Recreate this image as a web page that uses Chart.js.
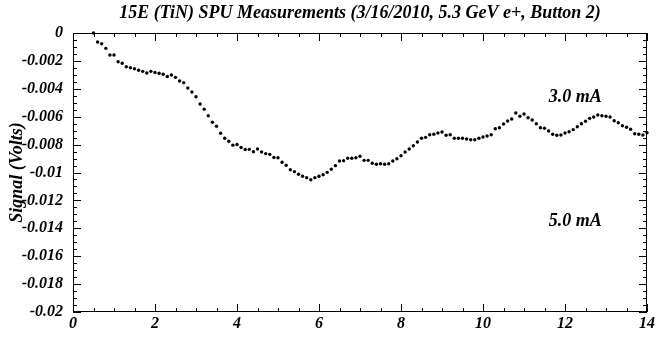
<!DOCTYPE html>
<html><head><meta charset="utf-8">
<script src="https://cdn.jsdelivr.net/npm/chart.js@4.4.0/dist/chart.umd.min.js"></script>
<style>html,body{margin:0;padding:0;background:#fff;overflow:hidden;} #wrap{width:665px;height:337px;position:relative;}</style>
</head><body><div id="wrap"><canvas id="c" width="665" height="337"></canvas></div>
<script>
const titleText = "15E (TiN) SPU Measurements (3/16/2010, 5.3 GeV e+, Button 2)";
const yAxisTitle = "Signal (Volts)";

const xValues = [
 0.5,0.6,0.7,0.8,0.9,1.0,1.1,1.2,1.3,1.4,
 1.5,1.6,1.7,1.8,1.9,2.0,2.1,2.2,2.3,2.4,
 2.5,2.6,2.7,2.8,2.9,3.0,3.1,3.2,3.3,3.4,
 3.5,3.6,3.7,3.8,3.9,4.0,4.1,4.2,4.3,4.4,
 4.5,4.6,4.7,4.8,4.9,5.0,
 5.1,5.2,5.3,5.4,5.5,5.6,5.7,5.8,5.9,6.0,
 6.1,6.2,6.3,6.4,6.5,6.6,6.7,6.8,6.9,7.0,7.1,7.2,
 7.3,7.4,7.5,7.6,7.7,7.8,7.9,8.0,8.1,8.2,8.3,8.4,8.5,8.6,8.7,8.8,8.9,9.0,9.1,9.2,9.3,9.4,9.5,
 9.6,9.7,9.8,9.9,10.0,10.1,10.2,10.3,10.4,10.5,10.6,10.7,10.8,10.9,11.0,11.1,11.2,11.3,11.4,11.5,11.6,11.7,11.8,
 11.9,12.0,12.1,12.2,12.3,12.4,12.5,12.6,12.7,12.8,12.9,13.0,13.1,13.2,13.3,13.4,13.5,13.6,13.7,13.8,13.9,14.0
];

const signalValues = [
 0, -0.00065, -0.00077, -0.0011, -0.00158, -0.00158, -0.00206, -0.00217, -0.00242, -0.00249,
 -0.00256, -0.00267, -0.00275, -0.00287, -0.00275, -0.00283, -0.00289, -0.00296, -0.00312, -0.00301,
 -0.00318, -0.00344, -0.00356, -0.00394, -0.00423, -0.00457, -0.00509, -0.00546, -0.00593, -0.0064,
 -0.00668, -0.00719, -0.00755, -0.00776, -0.00804, -0.00799, -0.00821, -0.00835, -0.00834, -0.00851,
 -0.00832, -0.00853, -0.00865, -0.0087, -0.00893, -0.00894,
 -0.00927, -0.00948, -0.0098, -0.00994, -0.01013, -0.01027, -0.01037, -0.01052, -0.01037, -0.01027,
 -0.01016, -0.00999, -0.00977, -0.00951, -0.00918, -0.00915, -0.00898, -0.00898, -0.00894, -0.00884, -0.00913, -0.00913,
 -0.00934, -0.00941, -0.00937, -0.00941, -0.00937, -0.00918, -0.00901, -0.0088, -0.00853, -0.00832, -0.00808, -0.00781,
 -0.00755, -0.00748, -0.00729, -0.00726, -0.00717, -0.0071, -0.00733, -0.00729, -0.00755, -0.00755, -0.00755,
 -0.0076, -0.00765, -0.00765, -0.00755, -0.00746, -0.00738, -0.00729, -0.00686, -0.00679, -0.00652, -0.00631,
 -0.00617, -0.00574, -0.00597, -0.00581, -0.00607, -0.00624, -0.0065, -0.00679, -0.00683, -0.00703, -0.00726, -0.00733,
 -0.00731, -0.00717, -0.00708, -0.00693, -0.00672, -0.0065, -0.00633, -0.00612, -0.00602, -0.00588, -0.00593,
 -0.00597, -0.00602, -0.00629, -0.00643, -0.00665, -0.00676, -0.0069, -0.00722, -0.00726, -0.00731, -0.00715
];

const xTickValues = [0, 2, 4, 6, 8, 10, 12, 14];
const xTickLabels = ["0", "2", "4", "6", "8", "10", "12", "14"];
const yTickValues = [0, -0.002, -0.004, -0.006, -0.008, -0.01, -0.012, -0.014, -0.016, -0.018, -0.02];
const yTickLabels = ["0", "-0.002", "-0.004", "-0.006", "-0.008", "-0.01", "-0.012", "-0.014", "-0.016", "-0.018", "-0.02"];

const annotationLabels = ["3.0 mA", "5.0 mA"];
const annotationX = [12.25, 12.25];
const annotationY = [-0.00459, -0.01348];

const FONT = '"Liberation Serif", "Times New Roman", serif';

const decorPlugin = {
  id: 'decor',
  afterDraw(chart) {
    const {ctx, chartArea: a, scales} = chart;
    const xs = scales.x, ys = scales.y;
    ctx.save();
    ctx.strokeStyle = '#000';
    ctx.lineWidth = 1;
    ctx.strokeRect(Math.round(a.left) + 0.5, Math.round(a.top) + 0.5,
                   Math.round(a.right - a.left) - 1, Math.round(a.bottom - a.top) - 1);
    ctx.beginPath();
    for (let k = 0; k <= 28; k++) {
      const v = k * 0.5;
      const px = Math.round(xs.getPixelForValue(v)) + 0.5;
      const len = (k % 4 === 0) ? 8 : 4;
      ctx.moveTo(px, a.bottom); ctx.lineTo(px, a.bottom - len);
      ctx.moveTo(px, a.top); ctx.lineTo(px, a.top + len);
    }
    for (let k = 0; k <= 40; k++) {
      const v = -k * 0.0005;
      const py = Math.round(ys.getPixelForValue(v)) + 0.5;
      const len = (k % 4 === 0) ? 8 : 4;
      ctx.moveTo(a.left, py); ctx.lineTo(a.left + len, py);
      ctx.moveTo(a.right, py); ctx.lineTo(a.right - len, py);
    }
    ctx.stroke();

    ctx.fillStyle = '#000';
    ctx.font = 'italic bold 18px ' + FONT;
    ctx.textAlign = 'center';
    ctx.textBaseline = 'middle';
    ctx.fillText(titleText, 360, 13);

    ctx.font = 'italic bold 18px ' + FONT;
    for (let i = 0; i < annotationLabels.length; i++) {
      ctx.fillText(annotationLabels[i], xs.getPixelForValue(annotationX[i]), ys.getPixelForValue(annotationY[i]));
    }
    ctx.restore();
  }
};

new Chart(document.getElementById('c'), {
  type: 'scatter',
  data: {
    datasets: [{
      data: xValues.map((x, i) => ({x: x, y: signalValues[i]})),
      pointRadius: 1.7,
      pointHoverRadius: 1.7,
      backgroundColor: '#000',
      borderColor: '#000',
      borderWidth: 0,
      showLine: false,
      clip: false
    }]
  },
  options: {
    responsive: false,
    animation: false,
    devicePixelRatio: 1,
    layout: {padding: {top: 33, right: 18, left: 0, bottom: 0}},
    plugins: {legend: {display: false}, title: {display: false}, tooltip: {enabled: false}},
    scales: {
      x: {
        type: 'linear', min: 0, max: 14,
        grid: {display: false, drawTicks: false},
        border: {display: false},
        afterBuildTicks: s => { s.ticks = xTickValues.map(v => ({value: v})); },
        afterFit: s => { s.height = 25; },
        ticks: {
          padding: 2, color: '#000', maxRotation: 0, autoSkip: false,
          font: {family: FONT, size: 16, style: 'italic', weight: 'bold'},
          callback: (v, i) => xTickLabels[i]
        }
      },
      y: {
        type: 'linear', min: -0.02, max: 0,
        grid: {display: false, drawTicks: false},
        border: {display: false},
        afterBuildTicks: s => { s.ticks = yTickValues.map(v => ({value: v})); },
        afterFit: s => { s.width = 73; },
        title: {
          display: true, text: yAxisTitle, color: '#000',
          font: {family: FONT, size: 18, style: 'italic', weight: 'bold'},
          padding: {top: 7, bottom: 0}
        },
        ticks: {
          padding: 10, color: '#000', autoSkip: false,
          font: {family: FONT, size: 16, style: 'italic', weight: 'bold'},
          callback: (v, i) => yTickLabels[i]
        }
      }
    }
  },
  plugins: [decorPlugin]
});
</script>
</body></html>
